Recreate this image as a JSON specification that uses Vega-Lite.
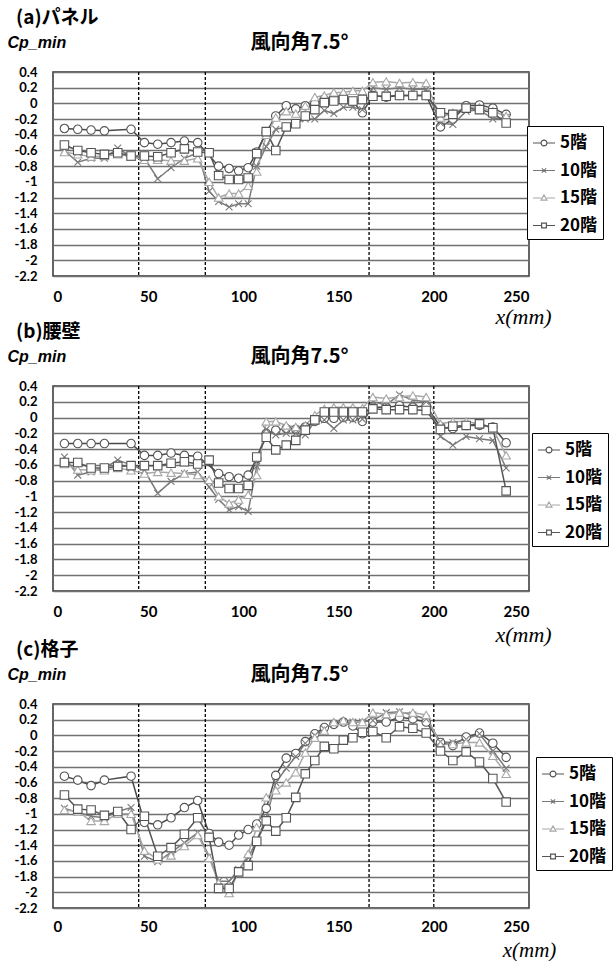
{
"$schema": "https://vega.github.io/schema/vega-lite/v6.json",
"background": "white",
"padding": {"left": 6, "top": 8, "right": 0, "bottom": 0},
"spacing": -6,
"columns": 1,
"config": {
  "view": {"stroke": "#333333", "strokeWidth": 1.5},
  "axis": {"labelFont": "Lato", "labelFontWeight": "bold", "labelColor": "black", "labelOverlap": false},
  "title": {"font": "Noto Sans CJK JP", "fontSize": 19, "fontWeight": "bold", "color": "black", "anchor": "start", "frame": "bounds", "offset": 0, "dx": 9},
  "legend": {"title": null, "orient": "none", "strokeColor": "black", "fillColor": "white", "padding": 5, "symbolSize": 484, "symbolStrokeWidth": 1.2, "labelFont": "Noto Sans CJK JP", "labelFontSize": 17, "labelFontWeight": "bold", "labelColor": "black", "rowPadding": 7.5, "labelOffset": 4}
},
"datasets": {
  "dash": [{"x": 45}, {"x": 80}, {"x": 166}, {"x": 200}],
  "pts": [
{"p":"a","s":"5階","x":6,"y":-0.32},{"p":"a","s":"5階","x":13,"y":-0.33},{"p":"a","s":"5階","x":20,"y":-0.34},{"p":"a","s":"5階","x":27,"y":-0.35},{"p":"a","s":"5階","x":41,"y":-0.33},{"p":"a","s":"5階","x":48,"y":-0.5},{"p":"a","s":"5階","x":55,"y":-0.52},{"p":"a","s":"5階","x":62,"y":-0.5},{"p":"a","s":"5階","x":69,"y":-0.48},{"p":"a","s":"5階","x":76,"y":-0.5},{"p":"a","s":"5階","x":87,"y":-0.8},{"p":"a","s":"5階","x":92.5,"y":-0.83},{"p":"a","s":"5階","x":97.5,"y":-0.86},{"p":"a","s":"5階","x":102.5,"y":-0.82},{"p":"a","s":"5階","x":107,"y":-0.62},{"p":"a","s":"5階","x":112,"y":-0.37},{"p":"a","s":"5階","x":117,"y":-0.16},{"p":"a","s":"5階","x":122.5,"y":-0.03},{"p":"a","s":"5階","x":127.5,"y":-0.07},{"p":"a","s":"5階","x":132.5,"y":-0.03},{"p":"a","s":"5階","x":137.5,"y":0.0},{"p":"a","s":"5階","x":142.5,"y":0.05},{"p":"a","s":"5階","x":147.5,"y":0.08},{"p":"a","s":"5階","x":152.5,"y":0.08},{"p":"a","s":"5階","x":157.5,"y":0.02},{"p":"a","s":"5階","x":162.5,"y":-0.12},{"p":"a","s":"5階","x":168,"y":0.1},{"p":"a","s":"5階","x":175,"y":0.08},{"p":"a","s":"5階","x":182,"y":0.1},{"p":"a","s":"5階","x":189,"y":0.1},{"p":"a","s":"5階","x":196,"y":0.1},{"p":"a","s":"5階","x":203.5,"y":-0.3},{"p":"a","s":"5階","x":210,"y":-0.2},{"p":"a","s":"5階","x":217,"y":-0.03},{"p":"a","s":"5階","x":224,"y":-0.02},{"p":"a","s":"5階","x":231,"y":-0.06},{"p":"a","s":"5階","x":238,"y":-0.14},
{"p":"a","s":"10階","x":6,"y":-0.6},{"p":"a","s":"10階","x":13,"y":-0.75},{"p":"a","s":"10階","x":20,"y":-0.7},{"p":"a","s":"10階","x":27,"y":-0.7},{"p":"a","s":"10階","x":34,"y":-0.57},{"p":"a","s":"10階","x":41,"y":-0.68},{"p":"a","s":"10階","x":48,"y":-0.7},{"p":"a","s":"10階","x":55,"y":-0.96},{"p":"a","s":"10階","x":62,"y":-0.82},{"p":"a","s":"10階","x":69,"y":-0.7},{"p":"a","s":"10階","x":76,"y":-0.63},{"p":"a","s":"10階","x":82,"y":-1.12},{"p":"a","s":"10階","x":87,"y":-1.25},{"p":"a","s":"10階","x":92.5,"y":-1.32},{"p":"a","s":"10階","x":97.5,"y":-1.28},{"p":"a","s":"10階","x":102.5,"y":-1.28},{"p":"a","s":"10階","x":107,"y":-0.8},{"p":"a","s":"10階","x":112,"y":-0.55},{"p":"a","s":"10階","x":117,"y":-0.33},{"p":"a","s":"10階","x":122.5,"y":-0.3},{"p":"a","s":"10階","x":127.5,"y":-0.25},{"p":"a","s":"10階","x":132.5,"y":-0.2},{"p":"a","s":"10階","x":137.5,"y":-0.2},{"p":"a","s":"10階","x":142.5,"y":-0.09},{"p":"a","s":"10階","x":147.5,"y":-0.13},{"p":"a","s":"10階","x":152.5,"y":-0.05},{"p":"a","s":"10階","x":157.5,"y":-0.05},{"p":"a","s":"10階","x":162.5,"y":-0.08},{"p":"a","s":"10階","x":168,"y":0.2},{"p":"a","s":"10階","x":175,"y":0.18},{"p":"a","s":"10階","x":182,"y":0.2},{"p":"a","s":"10階","x":189,"y":0.18},{"p":"a","s":"10階","x":196,"y":0.18},{"p":"a","s":"10階","x":203.5,"y":-0.25},{"p":"a","s":"10階","x":210,"y":-0.27},{"p":"a","s":"10階","x":217,"y":-0.1},{"p":"a","s":"10階","x":224,"y":-0.08},{"p":"a","s":"10階","x":231,"y":-0.2},{"p":"a","s":"10階","x":238,"y":-0.18},
{"p":"a","s":"15階","x":6,"y":-0.62},{"p":"a","s":"15階","x":13,"y":-0.65},{"p":"a","s":"15階","x":20,"y":-0.68},{"p":"a","s":"15階","x":27,"y":-0.67},{"p":"a","s":"15階","x":34,"y":-0.65},{"p":"a","s":"15階","x":41,"y":-0.68},{"p":"a","s":"15階","x":48,"y":-0.72},{"p":"a","s":"15階","x":55,"y":-0.72},{"p":"a","s":"15階","x":62,"y":-0.73},{"p":"a","s":"15階","x":69,"y":-0.73},{"p":"a","s":"15階","x":76,"y":-0.7},{"p":"a","s":"15階","x":82,"y":-1.0},{"p":"a","s":"15階","x":87,"y":-1.2},{"p":"a","s":"15階","x":92.5,"y":-1.15},{"p":"a","s":"15階","x":97.5,"y":-1.15},{"p":"a","s":"15階","x":102.5,"y":-1.05},{"p":"a","s":"15階","x":107,"y":-0.87},{"p":"a","s":"15階","x":112,"y":-0.4},{"p":"a","s":"15階","x":117,"y":-0.18},{"p":"a","s":"15階","x":122.5,"y":-0.1},{"p":"a","s":"15階","x":127.5,"y":-0.13},{"p":"a","s":"15階","x":132.5,"y":-0.03},{"p":"a","s":"15階","x":137.5,"y":0.08},{"p":"a","s":"15階","x":142.5,"y":0.1},{"p":"a","s":"15階","x":147.5,"y":0.14},{"p":"a","s":"15階","x":152.5,"y":0.14},{"p":"a","s":"15階","x":157.5,"y":0.16},{"p":"a","s":"15階","x":162.5,"y":0.16},{"p":"a","s":"15階","x":168,"y":0.27},{"p":"a","s":"15階","x":175,"y":0.28},{"p":"a","s":"15階","x":182,"y":0.26},{"p":"a","s":"15階","x":189,"y":0.27},{"p":"a","s":"15階","x":196,"y":0.26},{"p":"a","s":"15階","x":203.5,"y":-0.18},{"p":"a","s":"15階","x":210,"y":-0.12},{"p":"a","s":"15階","x":217,"y":-0.05},{"p":"a","s":"15階","x":224,"y":-0.05},{"p":"a","s":"15階","x":231,"y":-0.1},{"p":"a","s":"15階","x":238,"y":-0.16},
{"p":"a","s":"20階","x":6,"y":-0.53},{"p":"a","s":"20階","x":13,"y":-0.6},{"p":"a","s":"20階","x":20,"y":-0.63},{"p":"a","s":"20階","x":27,"y":-0.65},{"p":"a","s":"20階","x":34,"y":-0.63},{"p":"a","s":"20階","x":41,"y":-0.67},{"p":"a","s":"20階","x":48,"y":-0.67},{"p":"a","s":"20階","x":55,"y":-0.68},{"p":"a","s":"20階","x":62,"y":-0.63},{"p":"a","s":"20階","x":69,"y":-0.58},{"p":"a","s":"20階","x":76,"y":-0.62},{"p":"a","s":"20階","x":82,"y":-0.63},{"p":"a","s":"20階","x":87,"y":-0.92},{"p":"a","s":"20階","x":92.5,"y":-0.97},{"p":"a","s":"20階","x":97.5,"y":-0.97},{"p":"a","s":"20階","x":102.5,"y":-0.95},{"p":"a","s":"20階","x":107,"y":-0.64},{"p":"a","s":"20階","x":112,"y":-0.36},{"p":"a","s":"20階","x":117,"y":-0.6},{"p":"a","s":"20階","x":122.5,"y":-0.3},{"p":"a","s":"20階","x":127.5,"y":-0.26},{"p":"a","s":"20階","x":132.5,"y":-0.16},{"p":"a","s":"20階","x":137.5,"y":-0.08},{"p":"a","s":"20階","x":142.5,"y":0.01},{"p":"a","s":"20階","x":147.5,"y":0.03},{"p":"a","s":"20階","x":152.5,"y":0.05},{"p":"a","s":"20階","x":157.5,"y":0.03},{"p":"a","s":"20階","x":162.5,"y":0.05},{"p":"a","s":"20階","x":168,"y":0.09},{"p":"a","s":"20階","x":175,"y":0.09},{"p":"a","s":"20階","x":182,"y":0.1},{"p":"a","s":"20階","x":189,"y":0.1},{"p":"a","s":"20階","x":196,"y":0.1},{"p":"a","s":"20階","x":203.5,"y":-0.12},{"p":"a","s":"20階","x":210,"y":-0.14},{"p":"a","s":"20階","x":217,"y":-0.06},{"p":"a","s":"20階","x":224,"y":-0.08},{"p":"a","s":"20階","x":231,"y":-0.12},{"p":"a","s":"20階","x":238,"y":-0.25},
{"p":"b","s":"5階","x":6,"y":-0.33},{"p":"b","s":"5階","x":13,"y":-0.33},{"p":"b","s":"5階","x":20,"y":-0.33},{"p":"b","s":"5階","x":27,"y":-0.33},{"p":"b","s":"5階","x":41,"y":-0.33},{"p":"b","s":"5階","x":48,"y":-0.48},{"p":"b","s":"5階","x":55,"y":-0.48},{"p":"b","s":"5階","x":62,"y":-0.45},{"p":"b","s":"5階","x":69,"y":-0.48},{"p":"b","s":"5階","x":76,"y":-0.49},{"p":"b","s":"5階","x":87,"y":-0.71},{"p":"b","s":"5階","x":92.5,"y":-0.75},{"p":"b","s":"5階","x":97.5,"y":-0.77},{"p":"b","s":"5階","x":102.5,"y":-0.73},{"p":"b","s":"5階","x":107,"y":-0.52},{"p":"b","s":"5階","x":112,"y":-0.2},{"p":"b","s":"5階","x":117,"y":-0.16},{"p":"b","s":"5階","x":122.5,"y":-0.14},{"p":"b","s":"5階","x":127.5,"y":-0.15},{"p":"b","s":"5階","x":132.5,"y":-0.12},{"p":"b","s":"5階","x":137.5,"y":-0.05},{"p":"b","s":"5階","x":142.5,"y":-0.01},{"p":"b","s":"5階","x":147.5,"y":-0.01},{"p":"b","s":"5階","x":152.5,"y":0.0},{"p":"b","s":"5階","x":157.5,"y":0.0},{"p":"b","s":"5階","x":162.5,"y":-0.05},{"p":"b","s":"5階","x":168,"y":0.13},{"p":"b","s":"5階","x":175,"y":0.13},{"p":"b","s":"5階","x":182,"y":0.15},{"p":"b","s":"5階","x":189,"y":0.13},{"p":"b","s":"5階","x":196,"y":0.15},{"p":"b","s":"5階","x":203.5,"y":-0.12},{"p":"b","s":"5階","x":210,"y":-0.14},{"p":"b","s":"5階","x":217,"y":-0.1},{"p":"b","s":"5階","x":224,"y":-0.1},{"p":"b","s":"5階","x":231,"y":-0.12},{"p":"b","s":"5階","x":238,"y":-0.32},
{"p":"b","s":"10階","x":6,"y":-0.5},{"p":"b","s":"10階","x":13,"y":-0.73},{"p":"b","s":"10階","x":20,"y":-0.69},{"p":"b","s":"10階","x":27,"y":-0.64},{"p":"b","s":"10階","x":34,"y":-0.54},{"p":"b","s":"10階","x":41,"y":-0.6},{"p":"b","s":"10階","x":48,"y":-0.67},{"p":"b","s":"10階","x":55,"y":-0.96},{"p":"b","s":"10階","x":62,"y":-0.81},{"p":"b","s":"10階","x":69,"y":-0.71},{"p":"b","s":"10階","x":76,"y":-0.69},{"p":"b","s":"10階","x":82,"y":-0.88},{"p":"b","s":"10階","x":87,"y":-1.04},{"p":"b","s":"10階","x":92.5,"y":-1.17},{"p":"b","s":"10階","x":97.5,"y":-1.13},{"p":"b","s":"10階","x":102.5,"y":-1.19},{"p":"b","s":"10階","x":107,"y":-0.62},{"p":"b","s":"10階","x":112,"y":-0.15},{"p":"b","s":"10階","x":117,"y":-0.22},{"p":"b","s":"10階","x":122.5,"y":-0.2},{"p":"b","s":"10階","x":127.5,"y":-0.2},{"p":"b","s":"10階","x":132.5,"y":-0.22},{"p":"b","s":"10階","x":137.5,"y":-0.05},{"p":"b","s":"10階","x":142.5,"y":-0.03},{"p":"b","s":"10階","x":147.5,"y":-0.14},{"p":"b","s":"10階","x":152.5,"y":-0.03},{"p":"b","s":"10階","x":157.5,"y":-0.03},{"p":"b","s":"10階","x":162.5,"y":-0.02},{"p":"b","s":"10階","x":168,"y":0.2},{"p":"b","s":"10階","x":175,"y":0.16},{"p":"b","s":"10階","x":182,"y":0.29},{"p":"b","s":"10階","x":189,"y":0.22},{"p":"b","s":"10階","x":196,"y":0.2},{"p":"b","s":"10階","x":203.5,"y":-0.24},{"p":"b","s":"10階","x":210,"y":-0.35},{"p":"b","s":"10階","x":217,"y":-0.24},{"p":"b","s":"10階","x":224,"y":-0.27},{"p":"b","s":"10階","x":231,"y":-0.29},{"p":"b","s":"10階","x":238,"y":-0.64},
{"p":"b","s":"15階","x":6,"y":-0.59},{"p":"b","s":"15階","x":13,"y":-0.66},{"p":"b","s":"15階","x":20,"y":-0.67},{"p":"b","s":"15階","x":27,"y":-0.67},{"p":"b","s":"15階","x":34,"y":-0.64},{"p":"b","s":"15階","x":41,"y":-0.67},{"p":"b","s":"15階","x":48,"y":-0.71},{"p":"b","s":"15階","x":55,"y":-0.69},{"p":"b","s":"15階","x":62,"y":-0.7},{"p":"b","s":"15階","x":69,"y":-0.71},{"p":"b","s":"15階","x":76,"y":-0.73},{"p":"b","s":"15階","x":82,"y":-0.79},{"p":"b","s":"15階","x":87,"y":-1.0},{"p":"b","s":"15階","x":92.5,"y":-1.09},{"p":"b","s":"15階","x":97.5,"y":-1.04},{"p":"b","s":"15階","x":102.5,"y":-0.98},{"p":"b","s":"15階","x":107,"y":-0.73},{"p":"b","s":"15階","x":112,"y":-0.05},{"p":"b","s":"15階","x":117,"y":-0.05},{"p":"b","s":"15階","x":122.5,"y":-0.1},{"p":"b","s":"15階","x":127.5,"y":-0.12},{"p":"b","s":"15階","x":132.5,"y":-0.1},{"p":"b","s":"15階","x":137.5,"y":0.03},{"p":"b","s":"15階","x":142.5,"y":0.11},{"p":"b","s":"15階","x":147.5,"y":0.13},{"p":"b","s":"15階","x":152.5,"y":0.13},{"p":"b","s":"15階","x":157.5,"y":0.13},{"p":"b","s":"15階","x":162.5,"y":0.12},{"p":"b","s":"15階","x":168,"y":0.26},{"p":"b","s":"15階","x":175,"y":0.24},{"p":"b","s":"15階","x":182,"y":0.26},{"p":"b","s":"15階","x":189,"y":0.28},{"p":"b","s":"15階","x":196,"y":0.26},{"p":"b","s":"15階","x":203.5,"y":-0.08},{"p":"b","s":"15階","x":210,"y":-0.05},{"p":"b","s":"15階","x":217,"y":-0.05},{"p":"b","s":"15階","x":224,"y":-0.08},{"p":"b","s":"15階","x":231,"y":-0.14},{"p":"b","s":"15階","x":238,"y":-0.48},
{"p":"b","s":"20階","x":6,"y":-0.57},{"p":"b","s":"20階","x":13,"y":-0.57},{"p":"b","s":"20階","x":20,"y":-0.64},{"p":"b","s":"20階","x":27,"y":-0.64},{"p":"b","s":"20階","x":34,"y":-0.62},{"p":"b","s":"20階","x":41,"y":-0.61},{"p":"b","s":"20階","x":48,"y":-0.61},{"p":"b","s":"20階","x":55,"y":-0.61},{"p":"b","s":"20階","x":62,"y":-0.58},{"p":"b","s":"20階","x":69,"y":-0.56},{"p":"b","s":"20階","x":76,"y":-0.59},{"p":"b","s":"20階","x":82,"y":-0.54},{"p":"b","s":"20階","x":87,"y":-0.83},{"p":"b","s":"20階","x":92.5,"y":-0.9},{"p":"b","s":"20階","x":97.5,"y":-0.9},{"p":"b","s":"20階","x":102.5,"y":-0.86},{"p":"b","s":"20階","x":107,"y":-0.5},{"p":"b","s":"20階","x":112,"y":-0.25},{"p":"b","s":"20階","x":117,"y":-0.41},{"p":"b","s":"20階","x":122.5,"y":-0.35},{"p":"b","s":"20階","x":127.5,"y":-0.29},{"p":"b","s":"20階","x":132.5,"y":-0.16},{"p":"b","s":"20階","x":137.5,"y":-0.03},{"p":"b","s":"20階","x":142.5,"y":0.07},{"p":"b","s":"20階","x":147.5,"y":0.07},{"p":"b","s":"20階","x":152.5,"y":0.07},{"p":"b","s":"20階","x":157.5,"y":0.07},{"p":"b","s":"20階","x":162.5,"y":0.07},{"p":"b","s":"20階","x":168,"y":0.11},{"p":"b","s":"20階","x":175,"y":0.1},{"p":"b","s":"20階","x":182,"y":0.1},{"p":"b","s":"20階","x":189,"y":0.1},{"p":"b","s":"20階","x":196,"y":0.09},{"p":"b","s":"20階","x":203.5,"y":-0.15},{"p":"b","s":"20階","x":210,"y":-0.11},{"p":"b","s":"20階","x":217,"y":-0.1},{"p":"b","s":"20階","x":224,"y":-0.08},{"p":"b","s":"20階","x":231,"y":-0.13},{"p":"b","s":"20階","x":238,"y":-0.93},
{"p":"c","s":"5階","x":6,"y":-0.52},{"p":"c","s":"5階","x":13,"y":-0.57},{"p":"c","s":"5階","x":20,"y":-0.64},{"p":"c","s":"5階","x":27,"y":-0.57},{"p":"c","s":"5階","x":41,"y":-0.52},{"p":"c","s":"5階","x":48,"y":-1.11},{"p":"c","s":"5階","x":55,"y":-1.14},{"p":"c","s":"5階","x":62,"y":-1.05},{"p":"c","s":"5階","x":69,"y":-0.92},{"p":"c","s":"5階","x":76,"y":-0.83},{"p":"c","s":"5階","x":82,"y":-1.25},{"p":"c","s":"5階","x":87,"y":-1.36},{"p":"c","s":"5階","x":92.5,"y":-1.4},{"p":"c","s":"5階","x":97.5,"y":-1.27},{"p":"c","s":"5階","x":102.5,"y":-1.2},{"p":"c","s":"5階","x":107,"y":-1.13},{"p":"c","s":"5階","x":112,"y":-0.93},{"p":"c","s":"5階","x":117,"y":-0.51},{"p":"c","s":"5階","x":122.5,"y":-0.29},{"p":"c","s":"5階","x":127.5,"y":-0.23},{"p":"c","s":"5階","x":132.5,"y":-0.08},{"p":"c","s":"5階","x":137.5,"y":0.02},{"p":"c","s":"5階","x":142.5,"y":0.1},{"p":"c","s":"5階","x":147.5,"y":0.14},{"p":"c","s":"5階","x":152.5,"y":0.17},{"p":"c","s":"5階","x":157.5,"y":0.12},{"p":"c","s":"5階","x":162.5,"y":0.02},{"p":"c","s":"5階","x":168,"y":0.17},{"p":"c","s":"5階","x":175,"y":0.17},{"p":"c","s":"5階","x":182,"y":0.23},{"p":"c","s":"5階","x":189,"y":0.21},{"p":"c","s":"5階","x":196,"y":0.17},{"p":"c","s":"5階","x":203.5,"y":-0.09},{"p":"c","s":"5階","x":210,"y":-0.13},{"p":"c","s":"5階","x":217,"y":-0.02},{"p":"c","s":"5階","x":224,"y":0.03},{"p":"c","s":"5階","x":231,"y":-0.1},{"p":"c","s":"5階","x":238,"y":-0.28},
{"p":"c","s":"10階","x":6,"y":-0.93},{"p":"c","s":"10階","x":13,"y":-0.98},{"p":"c","s":"10階","x":20,"y":-1.03},{"p":"c","s":"10階","x":27,"y":-1.05},{"p":"c","s":"10階","x":34,"y":-0.97},{"p":"c","s":"10階","x":41,"y":-0.92},{"p":"c","s":"10階","x":48,"y":-1.54},{"p":"c","s":"10階","x":55,"y":-1.61},{"p":"c","s":"10階","x":62,"y":-1.49},{"p":"c","s":"10階","x":69,"y":-1.37},{"p":"c","s":"10階","x":76,"y":-1.24},{"p":"c","s":"10階","x":82,"y":-1.54},{"p":"c","s":"10階","x":87,"y":-1.86},{"p":"c","s":"10階","x":92.5,"y":-1.86},{"p":"c","s":"10階","x":97.5,"y":-1.71},{"p":"c","s":"10階","x":102.5,"y":-1.56},{"p":"c","s":"10階","x":107,"y":-1.34},{"p":"c","s":"10階","x":112,"y":-1.05},{"p":"c","s":"10階","x":117,"y":-0.6},{"p":"c","s":"10階","x":122.5,"y":-0.42},{"p":"c","s":"10階","x":127.5,"y":-0.27},{"p":"c","s":"10階","x":132.5,"y":-0.1},{"p":"c","s":"10階","x":137.5,"y":0.0},{"p":"c","s":"10階","x":142.5,"y":0.08},{"p":"c","s":"10階","x":147.5,"y":0.15},{"p":"c","s":"10階","x":152.5,"y":0.17},{"p":"c","s":"10階","x":157.5,"y":0.17},{"p":"c","s":"10階","x":162.5,"y":0.17},{"p":"c","s":"10階","x":168,"y":0.19},{"p":"c","s":"10階","x":175,"y":0.29},{"p":"c","s":"10階","x":182,"y":0.3},{"p":"c","s":"10階","x":189,"y":0.26},{"p":"c","s":"10階","x":196,"y":0.21},{"p":"c","s":"10階","x":203.5,"y":-0.08},{"p":"c","s":"10階","x":210,"y":-0.09},{"p":"c","s":"10階","x":217,"y":-0.05},{"p":"c","s":"10階","x":224,"y":0.02},{"p":"c","s":"10階","x":231,"y":-0.2},{"p":"c","s":"10階","x":238,"y":-0.42},
{"p":"c","s":"15階","x":6,"y":-0.95},{"p":"c","s":"15階","x":13,"y":-0.97},{"p":"c","s":"15階","x":20,"y":-1.09},{"p":"c","s":"15階","x":27,"y":-1.09},{"p":"c","s":"15階","x":34,"y":-1.0},{"p":"c","s":"15階","x":41,"y":-1.0},{"p":"c","s":"15階","x":48,"y":-1.47},{"p":"c","s":"15階","x":55,"y":-1.58},{"p":"c","s":"15階","x":62,"y":-1.53},{"p":"c","s":"15階","x":69,"y":-1.41},{"p":"c","s":"15階","x":76,"y":-1.27},{"p":"c","s":"15階","x":82,"y":-1.56},{"p":"c","s":"15階","x":87,"y":-1.88},{"p":"c","s":"15階","x":92.5,"y":-2.01},{"p":"c","s":"15階","x":97.5,"y":-1.73},{"p":"c","s":"15階","x":102.5,"y":-1.51},{"p":"c","s":"15階","x":107,"y":-1.17},{"p":"c","s":"15階","x":112,"y":-0.79},{"p":"c","s":"15階","x":117,"y":-0.7},{"p":"c","s":"15階","x":122.5,"y":-0.6},{"p":"c","s":"15階","x":127.5,"y":-0.47},{"p":"c","s":"15階","x":132.5,"y":-0.22},{"p":"c","s":"15階","x":137.5,"y":-0.03},{"p":"c","s":"15階","x":142.5,"y":0.06},{"p":"c","s":"15階","x":147.5,"y":0.17},{"p":"c","s":"15階","x":152.5,"y":0.19},{"p":"c","s":"15階","x":157.5,"y":0.17},{"p":"c","s":"15階","x":162.5,"y":0.17},{"p":"c","s":"15階","x":168,"y":0.29},{"p":"c","s":"15階","x":175,"y":0.27},{"p":"c","s":"15階","x":182,"y":0.29},{"p":"c","s":"15階","x":189,"y":0.29},{"p":"c","s":"15階","x":196,"y":0.26},{"p":"c","s":"15階","x":203.5,"y":-0.12},{"p":"c","s":"15階","x":210,"y":-0.11},{"p":"c","s":"15階","x":217,"y":-0.09},{"p":"c","s":"15階","x":224,"y":-0.09},{"p":"c","s":"15階","x":231,"y":-0.26},{"p":"c","s":"15階","x":238,"y":-0.49},
{"p":"c","s":"20階","x":6,"y":-0.76},{"p":"c","s":"20階","x":13,"y":-0.94},{"p":"c","s":"20階","x":20,"y":-0.95},{"p":"c","s":"20階","x":27,"y":-1.02},{"p":"c","s":"20階","x":34,"y":-0.97},{"p":"c","s":"20階","x":41,"y":-1.2},{"p":"c","s":"20階","x":48,"y":-1.03},{"p":"c","s":"20階","x":55,"y":-1.54},{"p":"c","s":"20階","x":62,"y":-1.43},{"p":"c","s":"20階","x":69,"y":-1.26},{"p":"c","s":"20階","x":76,"y":-1.05},{"p":"c","s":"20階","x":82,"y":-1.3},{"p":"c","s":"20階","x":87,"y":-1.95},{"p":"c","s":"20階","x":92.5,"y":-1.95},{"p":"c","s":"20階","x":97.5,"y":-1.74},{"p":"c","s":"20階","x":102.5,"y":-1.66},{"p":"c","s":"20階","x":107,"y":-1.35},{"p":"c","s":"20階","x":112,"y":-1.09},{"p":"c","s":"20階","x":117,"y":-1.22},{"p":"c","s":"20階","x":122.5,"y":-1.05},{"p":"c","s":"20階","x":127.5,"y":-0.79},{"p":"c","s":"20階","x":132.5,"y":-0.49},{"p":"c","s":"20階","x":137.5,"y":-0.32},{"p":"c","s":"20階","x":142.5,"y":-0.14},{"p":"c","s":"20階","x":147.5,"y":-0.17},{"p":"c","s":"20階","x":152.5,"y":-0.06},{"p":"c","s":"20階","x":157.5,"y":-0.03},{"p":"c","s":"20階","x":162.5,"y":0.04},{"p":"c","s":"20階","x":168,"y":0.05},{"p":"c","s":"20階","x":175,"y":-0.03},{"p":"c","s":"20階","x":182,"y":0.11},{"p":"c","s":"20階","x":189,"y":0.09},{"p":"c","s":"20階","x":196,"y":0.03},{"p":"c","s":"20階","x":203.5,"y":-0.2},{"p":"c","s":"20階","x":210,"y":-0.32},{"p":"c","s":"20階","x":217,"y":-0.21},{"p":"c","s":"20階","x":224,"y":-0.34},{"p":"c","s":"20階","x":231,"y":-0.55},{"p":"c","s":"20階","x":238,"y":-0.85}
  ]
},
"concat": [
 {
  "title": {"text": "(a)パネル"},
  "width": 476, "height": 204,
  "layer": [
   {"data": {"name": "dash"}, "mark": {"type": "rule", "strokeDash": [3, 2], "color": "black", "strokeWidth": 1.3},
    "encoding": {"x": {"field": "x", "type": "quantitative", "scale": {"domain": [0, 250], "nice": false},
      "axis": {"orient": "top", "title": "風向角7.5°", "labels": false, "ticks": false, "domain": false, "grid": false, "titleFont": "Noto Sans CJK JP", "titleFontSize": 20, "titleFontWeight": "bold", "titleColor": "black", "titleX": 246, "titleAlign": "center", "titlePadding": 20}}}},
   {"data": {"name": "pts"}, "transform": [{"filter": "datum.p == 'a'"}],
    "mark": {"type": "line", "strokeWidth": 1.5},
    "encoding": {
     "x": {"field": "x", "type": "quantitative", "scale": {"domain": [0, 250], "nice": false},
       "axis": {"orient": "bottom", "values": [0, 50, 100, 150, 200, 250], "labelFontSize": 15, "labelPadding": 13, "ticks": false, "domain": false, "grid": false, "title": "x(mm)", "titleFont": "Liberation Serif", "titleFontStyle": "italic", "titleFontWeight": "normal", "titleFontSize": 22, "titleColor": "black", "titleX": 470, "titleY": 47, "titleAlign": "center", "titleBaseline": "alphabetic"}},
     "y": {"field": "y", "type": "quantitative", "scale": {"domain": [-2.2, 0.4], "nice": false, "zero": false},
       "axis": {"values": [0.4, 0.2, 0, -0.2, -0.4, -0.6, -0.8, -1, -1.2, -1.4, -1.6, -1.8, -2, -2.2], "tickCount": 30, "labelExpr": "datum.value < 0 ? '-' + format(-datum.value, '~g') : format(datum.value, '~g')", "labelFontSize": 13, "labelPadding": 16, "ticks": false, "domain": false, "grid": true, "gridColor": "#707070", "gridWidth": 1.3, "title": "Cp_min", "titleAngle": 0, "titleAlign": "left", "titleBaseline": "alphabetic", "titleX": -46, "titleY": -25, "titleFont": "Liberation Sans", "titleFontStyle": "italic", "titleFontWeight": "bold", "titleFontSize": 16, "titleColor": "black"}},
     "stroke": {"field": "s", "type": "nominal", "scale": {"domain": ["5階", "10階", "15階", "20階"], "range": ["#4a4a4a", "#7a7a7a", "#a8a8a8", "#555555"]}, "legend": null}
    }},
   {"data": {"name": "pts"}, "transform": [{"filter": "datum.p == 'a'"}],
    "mark": {"type": "point", "filled": true, "fill": "white", "strokeWidth": 1.1, "size": 72, "opacity": 1},
    "encoding": {
     "x": {"field": "x", "type": "quantitative", "axis": null},
     "y": {"field": "y", "type": "quantitative"},
     "stroke": {"field": "s", "type": "nominal", "scale": {"domain": ["5階", "10階", "15階", "20階"], "range": ["#555555", "#7a7a7a", "#a8a8a8", "#555555"]}, "legend": null},
     "shape": {"field": "s", "type": "nominal", "scale": {"domain": ["5階", "10階", "15階", "20階"], "range": ["circle", "M-0.8,-0.8L0.8,0.8M-0.8,0.8L0.8,-0.8", "triangle-up", "square"]}, "legend": null}
    }},
   {"data": {"name": "pts"}, "transform": [{"filter": "datum.p == 'none'"}],
    "mark": {"type": "point", "filled": true, "fill": "white", "strokeWidth": 1.2, "opacity": 1},
    "encoding": {
     "x": {"field": "x", "type": "quantitative", "axis": null},
     "y": {"field": "y", "type": "quantitative"},
     "stroke": {"field": "s", "type": "nominal", "scale": {"domain": ["5階", "10階", "15階", "20階"], "range": ["#555555", "#7a7a7a", "#a8a8a8", "#555555"]},
       "legend": {"legendX": 474, "legendY": 54}},
     "shape": {"field": "s", "type": "nominal", "scale": {"domain": ["5階", "10階", "15階", "20階"], "range": ["M-1,0H-0.27M0.27,0H1M-0.27,0A0.27,0.27 0 1,1 0.27,0A0.27,0.27 0 1,1 -0.27,0Z", "M-1,0H1M-0.2,-0.2L0.2,0.2M-0.2,0.2L0.2,-0.2", "M-1,0H-0.25M0.25,0H1M0,-0.27L0.27,0.2L-0.27,0.2Z", "M-1,0H-0.22M0.22,0H1M-0.22,-0.22H0.22V0.22H-0.22Z"]},
       "legend": {"legendX": 474, "legendY": 54}}
    }}
  ],
  "resolve": {"scale": {"stroke": "independent", "shape": "independent"}, "axis": {"x": "independent"}}
 },
 {
  "title": {"text": "(b)腰壁"},
  "width": 476, "height": 205,
  "layer": [
   {"data": {"name": "dash"}, "mark": {"type": "rule", "strokeDash": [3, 2], "color": "black", "strokeWidth": 1.3},
    "encoding": {"x": {"field": "x", "type": "quantitative", "scale": {"domain": [0, 250], "nice": false},
      "axis": {"orient": "top", "title": "風向角7.5°", "labels": false, "ticks": false, "domain": false, "grid": false, "titleFont": "Noto Sans CJK JP", "titleFontSize": 20, "titleFontWeight": "bold", "titleColor": "black", "titleX": 246, "titleAlign": "center", "titlePadding": 20}}}},
   {"data": {"name": "pts"}, "transform": [{"filter": "datum.p == 'b'"}],
    "mark": {"type": "line", "strokeWidth": 1.5},
    "encoding": {
     "x": {"field": "x", "type": "quantitative", "scale": {"domain": [0, 250], "nice": false},
       "axis": {"orient": "bottom", "values": [0, 50, 100, 150, 200, 250], "labelFontSize": 15, "labelPadding": 13, "ticks": false, "domain": false, "grid": false, "title": "x(mm)", "titleFont": "Liberation Serif", "titleFontStyle": "italic", "titleFontWeight": "normal", "titleFontSize": 22, "titleColor": "black", "titleX": 470, "titleY": 50, "titleAlign": "center", "titleBaseline": "alphabetic"}},
     "y": {"field": "y", "type": "quantitative", "scale": {"domain": [-2.2, 0.4], "nice": false, "zero": false},
       "axis": {"values": [0.4, 0.2, 0, -0.2, -0.4, -0.6, -0.8, -1, -1.2, -1.4, -1.6, -1.8, -2, -2.2], "tickCount": 30, "labelExpr": "datum.value < 0 ? '-' + format(-datum.value, '~g') : format(datum.value, '~g')", "labelFontSize": 13, "labelPadding": 16, "ticks": false, "domain": false, "grid": true, "gridColor": "#707070", "gridWidth": 1.3, "title": "Cp_min", "titleAngle": 0, "titleAlign": "left", "titleBaseline": "alphabetic", "titleX": -46, "titleY": -25, "titleFont": "Liberation Sans", "titleFontStyle": "italic", "titleFontWeight": "bold", "titleFontSize": 16, "titleColor": "black"}},
     "stroke": {"field": "s", "type": "nominal", "scale": {"domain": ["5階", "10階", "15階", "20階"], "range": ["#4a4a4a", "#7a7a7a", "#a8a8a8", "#555555"]}, "legend": null}
    }},
   {"data": {"name": "pts"}, "transform": [{"filter": "datum.p == 'b'"}],
    "mark": {"type": "point", "filled": true, "fill": "white", "strokeWidth": 1.1, "size": 72, "opacity": 1},
    "encoding": {
     "x": {"field": "x", "type": "quantitative", "axis": null},
     "y": {"field": "y", "type": "quantitative"},
     "stroke": {"field": "s", "type": "nominal", "scale": {"domain": ["5階", "10階", "15階", "20階"], "range": ["#555555", "#7a7a7a", "#a8a8a8", "#555555"]}, "legend": null},
     "shape": {"field": "s", "type": "nominal", "scale": {"domain": ["5階", "10階", "15階", "20階"], "range": ["circle", "M-0.8,-0.8L0.8,0.8M-0.8,0.8L0.8,-0.8", "triangle-up", "square"]}, "legend": null}
    }},
   {"data": {"name": "pts"}, "transform": [{"filter": "datum.p == 'none'"}],
    "mark": {"type": "point", "filled": true, "fill": "white", "strokeWidth": 1.2, "opacity": 1},
    "encoding": {
     "x": {"field": "x", "type": "quantitative", "axis": null},
     "y": {"field": "y", "type": "quantitative"},
     "stroke": {"field": "s", "type": "nominal", "scale": {"domain": ["5階", "10階", "15階", "20階"], "range": ["#555555", "#7a7a7a", "#a8a8a8", "#555555"]},
       "legend": {"legendX": 479, "legendY": 47}},
     "shape": {"field": "s", "type": "nominal", "scale": {"domain": ["5階", "10階", "15階", "20階"], "range": ["M-1,0H-0.27M0.27,0H1M-0.27,0A0.27,0.27 0 1,1 0.27,0A0.27,0.27 0 1,1 -0.27,0Z", "M-1,0H1M-0.2,-0.2L0.2,0.2M-0.2,0.2L0.2,-0.2", "M-1,0H-0.25M0.25,0H1M0,-0.27L0.27,0.2L-0.27,0.2Z", "M-1,0H-0.22M0.22,0H1M-0.22,-0.22H0.22V0.22H-0.22Z"]},
       "legend": {"legendX": 479, "legendY": 47}}
    }}
  ],
  "resolve": {"scale": {"stroke": "independent", "shape": "independent"}, "axis": {"x": "independent"}}
 },
 {
  "title": {"text": "(c)格子"},
  "width": 476, "height": 204,
  "layer": [
   {"data": {"name": "dash"}, "mark": {"type": "rule", "strokeDash": [3, 2], "color": "black", "strokeWidth": 1.3},
    "encoding": {"x": {"field": "x", "type": "quantitative", "scale": {"domain": [0, 250], "nice": false},
      "axis": {"orient": "top", "title": "風向角7.5°", "labels": false, "ticks": false, "domain": false, "grid": false, "titleFont": "Noto Sans CJK JP", "titleFontSize": 20, "titleFontWeight": "bold", "titleColor": "black", "titleX": 246, "titleAlign": "center", "titlePadding": 20}}}},
   {"data": {"name": "pts"}, "transform": [{"filter": "datum.p == 'c'"}],
    "mark": {"type": "line", "strokeWidth": 1.5},
    "encoding": {
     "x": {"field": "x", "type": "quantitative", "scale": {"domain": [0, 250], "nice": false},
       "axis": {"orient": "bottom", "values": [0, 50, 100, 150, 200, 250], "labelFontSize": 15, "labelPadding": 11, "ticks": false, "domain": false, "grid": false, "title": "x(mm)", "titleFont": "Liberation Serif", "titleFontStyle": "italic", "titleFontWeight": "normal", "titleFontSize": 21, "titleColor": "black", "titleX": 476, "titleY": 48, "titleAlign": "center", "titleBaseline": "alphabetic"}},
     "y": {"field": "y", "type": "quantitative", "scale": {"domain": [-2.2, 0.4], "nice": false, "zero": false},
       "axis": {"values": [0.4, 0.2, 0, -0.2, -0.4, -0.6, -0.8, -1, -1.2, -1.4, -1.6, -1.8, -2, -2.2], "tickCount": 30, "labelExpr": "datum.value < 0 ? '-' + format(-datum.value, '~g') : format(datum.value, '~g')", "labelFontSize": 13, "labelPadding": 16, "ticks": false, "domain": false, "grid": true, "gridColor": "#707070", "gridWidth": 1.3, "title": "Cp_min", "titleAngle": 0, "titleAlign": "left", "titleBaseline": "alphabetic", "titleX": -46, "titleY": -25, "titleFont": "Liberation Sans", "titleFontStyle": "italic", "titleFontWeight": "bold", "titleFontSize": 16, "titleColor": "black"}},
     "stroke": {"field": "s", "type": "nominal", "scale": {"domain": ["5階", "10階", "15階", "20階"], "range": ["#4a4a4a", "#7a7a7a", "#a8a8a8", "#555555"]}, "legend": null}
    }},
   {"data": {"name": "pts"}, "transform": [{"filter": "datum.p == 'c'"}],
    "mark": {"type": "point", "filled": true, "fill": "white", "strokeWidth": 1.1, "size": 72, "opacity": 1},
    "encoding": {
     "x": {"field": "x", "type": "quantitative", "axis": null},
     "y": {"field": "y", "type": "quantitative"},
     "stroke": {"field": "s", "type": "nominal", "scale": {"domain": ["5階", "10階", "15階", "20階"], "range": ["#555555", "#7a7a7a", "#a8a8a8", "#555555"]}, "legend": null},
     "shape": {"field": "s", "type": "nominal", "scale": {"domain": ["5階", "10階", "15階", "20階"], "range": ["circle", "M-0.8,-0.8L0.8,0.8M-0.8,0.8L0.8,-0.8", "triangle-up", "square"]}, "legend": null}
    }},
   {"data": {"name": "pts"}, "transform": [{"filter": "datum.p == 'none'"}],
    "mark": {"type": "point", "filled": true, "fill": "white", "strokeWidth": 1.2, "opacity": 1},
    "encoding": {
     "x": {"field": "x", "type": "quantitative", "axis": null},
     "y": {"field": "y", "type": "quantitative"},
     "stroke": {"field": "s", "type": "nominal", "scale": {"domain": ["5階", "10階", "15階", "20階"], "range": ["#555555", "#7a7a7a", "#a8a8a8", "#555555"]},
       "legend": {"legendX": 483, "legendY": 53}},
     "shape": {"field": "s", "type": "nominal", "scale": {"domain": ["5階", "10階", "15階", "20階"], "range": ["M-1,0H-0.27M0.27,0H1M-0.27,0A0.27,0.27 0 1,1 0.27,0A0.27,0.27 0 1,1 -0.27,0Z", "M-1,0H1M-0.2,-0.2L0.2,0.2M-0.2,0.2L0.2,-0.2", "M-1,0H-0.25M0.25,0H1M0,-0.27L0.27,0.2L-0.27,0.2Z", "M-1,0H-0.22M0.22,0H1M-0.22,-0.22H0.22V0.22H-0.22Z"]},
       "legend": {"legendX": 483, "legendY": 53}}
    }}
  ],
  "resolve": {"scale": {"stroke": "independent", "shape": "independent"}, "axis": {"x": "independent"}}
 }
]
}
